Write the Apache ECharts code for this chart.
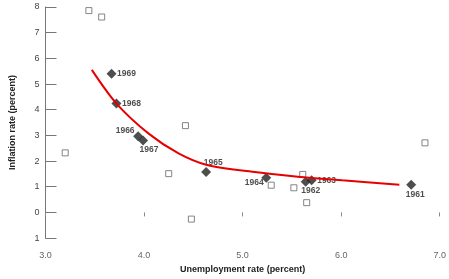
<!DOCTYPE html>
<html>
<head>
<meta charset="utf-8">
<script src="https://cdn.jsdelivr.net/npm/echarts@6/dist/echarts.min.js"></script>
<style>
  html, body { margin: 0; padding: 0; background: #fff; }
  #chart { width: 449px; height: 279px; }
</style>
</head>
<body>
<div id="chart"></div>
<script>
  // Phillips curve, 1961-1969
  const years = ['1961', '1962', '1963', '1964', '1965', '1966', '1967', '1968', '1969'];
  const unemployment = [6.71, 5.64, 5.70, 5.24, 4.63, 3.94, 3.99, 3.72, 3.67];
  const inflation = [1.08, 1.19, 1.25, 1.35, 1.57, 2.97, 2.80, 4.24, 5.40];

  // fitted curve
  const curveX = [3.47, 3.72, 4.05, 4.35, 4.63, 5.10, 5.56, 6.01, 6.59];
  const curveY = [5.55, 4.24, 3.06, 2.30, 1.86, 1.58, 1.39, 1.25, 1.08];

  // stray hollow square marks left in the scan
  const strayX = [3.44, 3.57, 3.20, 4.42, 4.25, 4.48, 5.29, 5.52, 5.61, 5.65, 6.85, 6.08];
  const strayY = [7.86, 7.61, 2.32, 3.38, 1.51, -0.26, 1.06, 0.96, 1.48, 0.38, 2.71, -1.04];

  const yTickLabels = { '-1': '1', '0': '0', '1': '1', '2': '2', '3': '3', '4': '4', '5': '5', '6': '6', '7': '7', '8': '8' };

  // label offsets from each diamond (px)
  const labelOffsets = {
    '1961': [4, 10], '1962': [5, 9], '1963': [15, 0], '1964': [-12, 5], '1965': [7, -9],
    '1966': [-13, -6], '1967': [6, 9.5], '1968': [15, 0], '1969': [15, 0]
  };

  const chart = echarts.init(document.getElementById('chart'));
  const font = 'Liberation Sans, Arial, sans-serif';

  const option = {
    animation: false,
    backgroundColor: '#fff',
    grid: { left: 45.5, right: 6, top: 7, bottom: 39 },
    xAxis: {
      type: 'value',
      min: 3, max: 7, interval: 1,
      name: 'Unemployment rate (percent)',
      nameLocation: 'middle',
      nameGap: 26,
      nameTextStyle: { fontFamily: font, fontSize: 9, fontWeight: 'bold', color: '#222' },
      axisLine: { show: false },
      axisTick: { show: true, length: 4, lineStyle: { color: '#888' } },
      axisLabel: {
        margin: 13, fontFamily: font, fontSize: 9, color: '#666',
        formatter: (v) => v.toFixed(1)
      },
      splitLine: { show: false }
    },
    yAxis: {
      type: 'value',
      min: -1, max: 8, interval: 1,
      name: 'Inflation rate (percent)',
      nameLocation: 'middle',
      nameGap: 28,
      nameTextStyle: { fontFamily: font, fontSize: 9, fontWeight: 'bold', color: '#222' },
      axisLine: { show: true, lineStyle: { color: '#777', width: 1 } },
      axisTick: { show: true, inside: true, length: 11, lineStyle: { color: '#777' } },
      axisLabel: {
        margin: 6, fontFamily: font, fontSize: 9, color: '#444',
        formatter: (v) => yTickLabels[String(v)]
      },
      splitLine: { show: false }
    },
    series: [
      {
        type: 'scatter',
        symbol: 'rect',
        symbolSize: 6,
        itemStyle: { color: '#fff', borderColor: '#666', borderWidth: 1 },
        data: strayX.map((x, i) => [x, strayY[i]]),
        z: 1
      },
      {
        type: 'scatter',
        symbol: 'diamond',
        symbolSize: 10,
        itemStyle: { color: '#222' },
        data: years.map((y, i) => ({
          value: [unemployment[i], inflation[i]],
          label: {
            show: true,
            position: 'inside',
            offset: labelOffsets[y],
            formatter: y,
            fontFamily: font,
            fontSize: 8.5,
            fontWeight: 'bold',
            color: '#222'
          }
        })),
        z: 2
      },
      {
        type: 'line',
        smooth: 0.3,
        symbol: 'none',
        lineStyle: { color: '#e60000', width: 2 },
        data: curveX.map((x, i) => [x, curveY[i]]),
        z: 3
      }
    ]
  };

  chart.setOption(option);
  window.addEventListener('resize', () => chart.resize());
</script>
</body>
</html>
